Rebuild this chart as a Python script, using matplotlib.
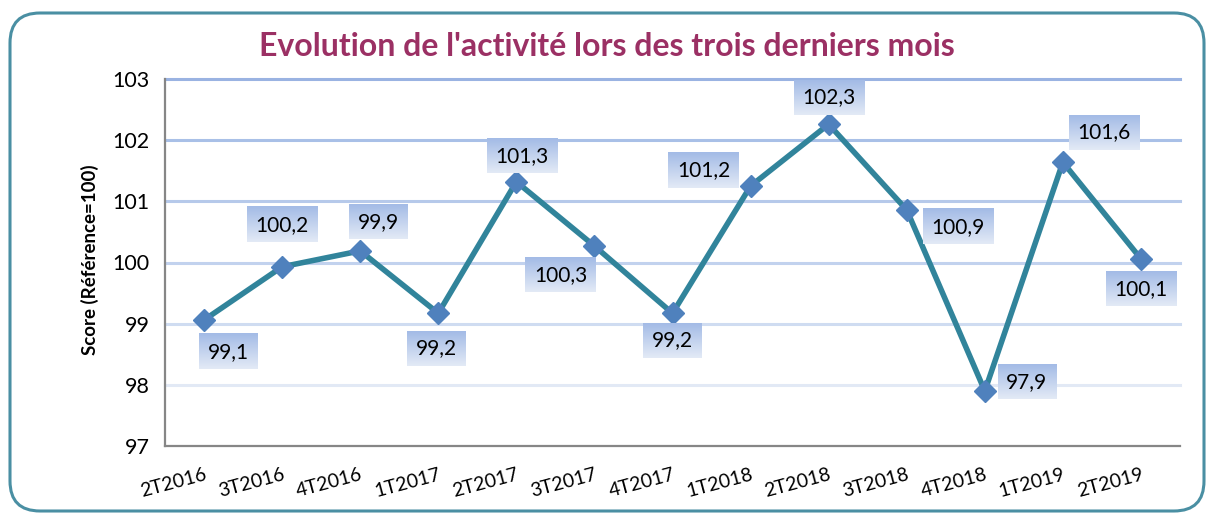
import numpy as np
import matplotlib
matplotlib.use("Agg")
import matplotlib.pyplot as plt
from matplotlib.patches import FancyBboxPatch
from matplotlib.transforms import IdentityTransform
from matplotlib.colors import LinearSegmentedColormap

plt.rcParams["font.family"] = ["Lato", "DejaVu Sans"]

# données
trimestres = ["2T2016", "3T2016", "4T2016", "1T2017", "2T2017", "3T2017", "4T2017",
              "1T2018", "2T2018", "3T2018", "4T2018", "1T2019", "2T2019"]
scores = [99.06, 99.93, 100.19, 99.17, 101.32, 100.27, 99.17,
          101.25, 102.26, 100.86, 97.9, 101.64, 100.06]
etiquettes = ["99,1", "100,2", "99,9", "99,2", "101,3", "100,3", "99,2",
              "101,2", "102,3", "100,9", "97,9", "101,6", "100,1"]

# décalage des étiquettes (pixels, x vers la droite, y vers le bas)
decalages = [(24, 32), (0, -42), (18, -29), (-2, 35), (6, -26), (-34, 29), (0, 27),
             (-47, -16), (0, -27), (51, 17), (42, -9), (41, -30), (0, 30)]

W, H = 1207, 514
fig = plt.figure(figsize=(W / 100, H / 100), dpi=100)
fig.patch.set_facecolor("white")

# cadre arrondi
cadre = FancyBboxPatch((10, 3), 1194, 498, boxstyle="round,pad=0,rounding_size=30",
                       transform=IdentityTransform(), facecolor="none",
                       edgecolor="#4a8fa3", linewidth=2.2, zorder=-1)
fig.patches.append(cadre)

ax = fig.add_axes([165 / W, 1 - 446 / H, (1180 - 165) / W, (446 - 79) / H])
ax.set_facecolor("none")
x = np.arange(len(trimestres))
ax.set_xlim(-0.5, len(trimestres) - 0.5)
ax.set_ylim(97, 103)
ax.set_autoscale_on(False)

# grille (dégradé du haut vers le bas)
couleurs_grille = {103: "#9ab3e2", 102: "#a9c0e7", 101: "#b6c9ea",
                   100: "#c2d2ee", 99: "#cfdcf1", 98: "#e2e9f5"}
for yv, c in couleurs_grille.items():
    ax.axhline(yv, color=c, linewidth=2.2, zorder=1, clip_on=False)

ax.plot(x, scores, color="#31849b", linewidth=4, zorder=3)
ax.plot(x, scores, linestyle="none", marker="D", markersize=11,
        color="#4f81bd", zorder=4)

for s in ["top", "right"]:
    ax.spines[s].set_visible(False)
for s in ["left", "bottom"]:
    ax.spines[s].set_color("#868686")
    ax.spines[s].set_linewidth(1.6)
    ax.spines[s].set_zorder(2)

ax.set_yticks([97, 98, 99, 100, 101, 102, 103])
ax.set_yticklabels(["97", "98", "99", "100", "101", "102", "103"], fontsize=15.5)
ax.set_xticks(x)
ax.set_xticklabels(trimestres, fontsize=14, rotation=15, ha="right",
                   rotation_mode="anchor")
ax.tick_params(axis="both", length=0)
ax.tick_params(axis="y", pad=11)
ax.tick_params(axis="x", pad=14)

ax.set_ylabel("Score (Référence=100)", fontsize=13.5, fontweight="bold")
ax.yaxis.set_label_coords((99 - 165) / 1015, (446 - 260) / 367)

fig.text(607 / W, 1 - 47 / H, "Evolution de l'activité lors des trois derniers mois",
         ha="center", va="center", fontsize=23, fontweight="bold", color="#9b3064")

# étiquettes avec dégradé
degrade = LinearSegmentedColormap.from_list("deg", ["#a3bbe6", "#e3eaf6"])
grad = np.linspace(0, 1, 64).reshape(-1, 1)
renderer = fig.canvas.get_renderer()
inv = ax.transData.inverted()
for i, (v, lab, (dx, dy)) in enumerate(zip(scores, etiquettes, decalages)):
    px, py = ax.transData.transform((i, v))
    cx, cy = px + dx, py - dy
    t = ax.text(*inv.transform((cx, cy)), lab, ha="center", va="center",
                fontsize=15, color="black", zorder=6)
    tw = t.get_window_extent(renderer).width
    bw, bh = tw + 17, 35
    x0, y0 = inv.transform((cx - bw / 2, cy - bh / 2))
    x1, y1 = inv.transform((cx + bw / 2, cy + bh / 2))
    ax.imshow(grad, cmap=degrade, extent=(x0, x1, y0, y1), aspect="auto",
              origin="upper", zorder=5, clip_on=False, interpolation="bilinear")

ax.set_xlim(-0.5, len(trimestres) - 0.5)
ax.set_ylim(97, 103)

fig.savefig("out.png", dpi=100)
